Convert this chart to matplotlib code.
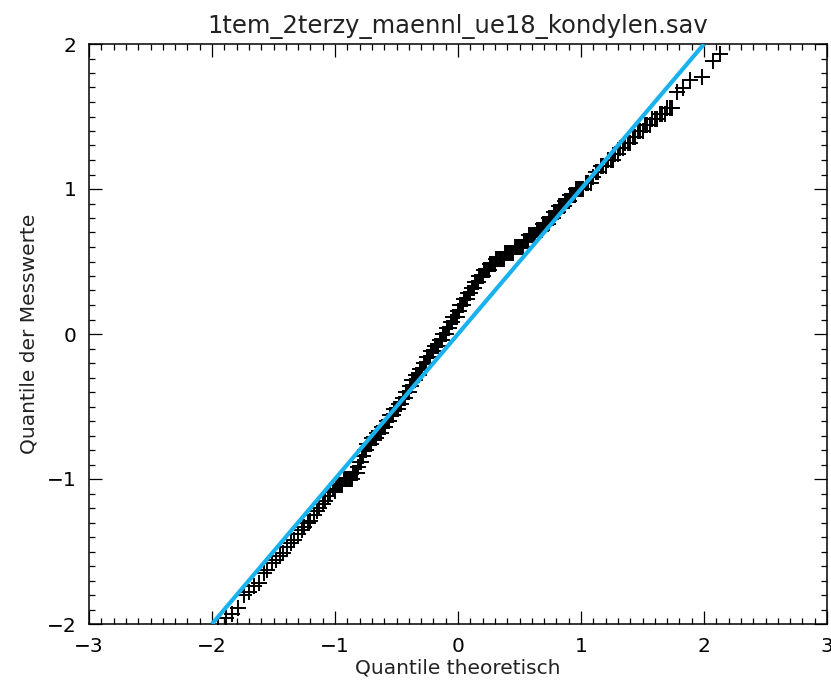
import matplotlib
matplotlib.use("Agg")
import matplotlib.pyplot as plt
from matplotlib.ticker import MultipleLocator

# theoretische Quantile
theo = [-2.04, -1.95, -1.89, -1.84, -1.79, -1.74, -1.70, -1.66, -1.62, -1.58,
        -1.55, -1.51, -1.48, -1.45, -1.42, -1.39, -1.36, -1.33, -1.30, -1.27,
        -1.25, -1.22, -1.20, -1.17, -1.15, -1.13, -1.10, -1.08, -1.06, -1.04,
        -1.02,
        -1.00, -0.99, -0.98, -0.97, -0.96, -0.95, -0.94, -0.93, -0.92, -0.91,
        -0.90, -0.89, -0.88, -0.87, -0.86, -0.85, -0.84, -0.83, -0.82, -0.81,
        -0.80, -0.79, -0.78, -0.77, -0.76, -0.75, -0.74, -0.73, -0.72, -0.71,
        -0.70, -0.69, -0.68, -0.67, -0.66, -0.65, -0.64, -0.63, -0.62, -0.61,
        -0.60, -0.59, -0.58, -0.57, -0.56, -0.55, -0.54, -0.53, -0.52, -0.51,
        -0.50, -0.49, -0.48, -0.47, -0.46, -0.45, -0.44, -0.43, -0.42, -0.41,
        -0.40, -0.39, -0.38, -0.37, -0.36, -0.35, -0.34, -0.33, -0.32, -0.31,
        -0.30, -0.29, -0.28, -0.27, -0.26, -0.25, -0.24, -0.23, -0.22, -0.21,
        -0.20, -0.19, -0.18, -0.17, -0.16, -0.15, -0.14, -0.13, -0.12, -0.11,
        -0.10, -0.09, -0.08, -0.07, -0.06, -0.05, -0.04, -0.03, -0.02, -0.01,
        0.00, 0.01, 0.02, 0.03, 0.04, 0.05, 0.06, 0.07, 0.08, 0.09,
        0.10, 0.11, 0.12, 0.13, 0.14, 0.15, 0.16, 0.17, 0.18, 0.19,
        0.20, 0.21, 0.22, 0.23, 0.24, 0.25, 0.26, 0.27, 0.28, 0.29,
        0.30, 0.31, 0.32, 0.33, 0.34, 0.35, 0.36, 0.37, 0.38, 0.39,
        0.40, 0.41, 0.42, 0.43, 0.44, 0.45, 0.46, 0.47, 0.48, 0.49,
        0.50, 0.51, 0.52, 0.53, 0.54, 0.55, 0.56, 0.57, 0.58, 0.59,
        0.60, 0.61, 0.62, 0.63, 0.64, 0.65, 0.66, 0.67, 0.68, 0.69,
        0.70, 0.71, 0.72, 0.73, 0.74, 0.75, 0.76, 0.77, 0.78, 0.79,
        0.80, 0.81, 0.82, 0.83, 0.84, 0.85, 0.86, 0.87, 0.88, 0.89,
        0.90, 0.91, 0.92, 0.93, 0.94, 0.95, 0.96, 0.97, 0.98, 0.99,
        1.00,
        1.02, 1.04, 1.06, 1.08, 1.10, 1.12, 1.14, 1.16, 1.18, 1.20,
        1.22, 1.24, 1.26, 1.28, 1.30, 1.32, 1.34, 1.36, 1.38, 1.40,
        1.42, 1.44, 1.46, 1.48, 1.50, 1.52, 1.54, 1.56, 1.58, 1.60,
        1.62, 1.64, 1.66, 1.68, 1.70, 1.72, 1.74,
        1.78, 1.83, 1.89, 1.98, 2.07, 2.13]

messwerte = [-2.10, -2.02, -1.96, -1.93, -1.89, -1.80, -1.78, -1.74, -1.72, -1.65,
             -1.63, -1.58, -1.56, -1.53, -1.51, -1.47, -1.44, -1.42, -1.38, -1.35,
             -1.33, -1.30, -1.29, -1.25, -1.22, -1.20, -1.17, -1.15, -1.12, -1.09,
             -1.07,
             -1.08, -1.04, -1.04, -1.04, -1.04, -1.04, -1.04, -1.00, -1.00, -1.00,
             -1.00, -1.00, -1.00, -1.00, -1.00, -0.96, -0.96, -0.96, -0.96, -0.92,
             -0.88, -0.88, -0.84, -0.84, -0.80, -0.80, -0.76, -0.76, -0.76, -0.76,
             -0.72, -0.72, -0.72, -0.72, -0.68, -0.68, -0.68, -0.68, -0.64, -0.64,
             -0.64, -0.64, -0.60, -0.60, -0.60, -0.56, -0.56, -0.56, -0.52, -0.52,
             -0.52, -0.52, -0.48, -0.48, -0.48, -0.44, -0.44, -0.44, -0.40, -0.40,
             -0.40, -0.36, -0.36, -0.32, -0.32, -0.32, -0.28, -0.28, -0.28, -0.24,
             -0.24, -0.24, -0.20, -0.20, -0.20, -0.16, -0.16, -0.16, -0.12, -0.12,
             -0.12, -0.08, -0.08, -0.08, -0.08, -0.04, -0.04, -0.04, 0.00, 0.00,
             0.00, 0.04, 0.04, 0.04, 0.08, 0.08, 0.12, 0.12, 0.12, 0.12,
             0.16, 0.16, 0.20, 0.20, 0.20, 0.24, 0.24, 0.24, 0.28, 0.28,
             0.28, 0.32, 0.32, 0.32, 0.36, 0.36, 0.36, 0.40, 0.40, 0.40,
             0.40, 0.44, 0.44, 0.44, 0.44, 0.44, 0.48, 0.48, 0.48, 0.48,
             0.48, 0.52, 0.52, 0.52, 0.52, 0.52, 0.52, 0.52, 0.56, 0.56,
             0.56, 0.56, 0.56, 0.56, 0.56, 0.56, 0.60, 0.60, 0.60, 0.60,
             0.60, 0.60, 0.60, 0.60, 0.64, 0.64, 0.64, 0.64, 0.68, 0.68,
             0.68, 0.68, 0.68, 0.68, 0.72, 0.72, 0.72, 0.72, 0.72, 0.76,
             0.76, 0.76, 0.76, 0.76, 0.80, 0.80, 0.80, 0.80, 0.84, 0.84,
             0.84, 0.84, 0.88, 0.88, 0.88, 0.88, 0.88, 0.92, 0.92, 0.92,
             0.92, 0.96, 0.96, 0.96, 0.96, 0.96, 1.00, 1.00, 1.00, 1.00,
             1.00,
             1.00, 1.04, 1.04, 1.04, 1.08, 1.12, 1.12, 1.16, 1.16, 1.16,
             1.20, 1.20, 1.20, 1.24, 1.24, 1.28, 1.28, 1.32, 1.32, 1.32,
             1.36, 1.36, 1.40, 1.40, 1.40, 1.44, 1.44, 1.44, 1.48, 1.48,
             1.48, 1.52, 1.52, 1.52, 1.56, 1.56, 1.56,
             1.67, 1.70, 1.75, 1.77, 1.88, 1.93]

# Referenzgerade
linie_x = [-2, 2]
linie_y = [-2, 2]

titel = "1tem_2terzy_maennl_ue18_kondylen.sav"

plt.rcParams['font.family'] = ['DejaVu Sans']
fig = plt.figure(figsize=(8.31, 6.82), dpi=100)
ax = fig.add_axes([89 / 831, 58 / 682, 738 / 831, 580 / 682])

ax.plot(theo, messwerte, linestyle='none', marker='+', markersize=12,
        markeredgewidth=1.4, color='black', zorder=2)
ax.plot(linie_x, linie_y, color='#19b2ef', linewidth=3.0, zorder=3,
        solid_capstyle='butt')

ax.set_xlim(-3, 3)
ax.set_ylim(-2, 2)
ax.xaxis.set_major_locator(MultipleLocator(1))
ax.xaxis.set_minor_locator(MultipleLocator(0.1))
ax.yaxis.set_major_locator(MultipleLocator(1))
ax.yaxis.set_minor_locator(MultipleLocator(0.1))
ax.tick_params(which='both', direction='in', top=True, right=True,
               color='black', width=0.9)
ax.tick_params(which='major', length=9.5, labelsize=14.5, pad=9)
ax.tick_params(which='minor', length=4.5)
for s in ax.spines.values():
    s.set_linewidth(1.1)

ax.set_title(titel, fontsize=17.5, pad=8, color='#222222')
ax.set_xlabel("Quantile theoretisch", fontsize=14.5, labelpad=2, color='#222222')
ax.set_ylabel("Quantile der Messwerte", fontsize=14.5, labelpad=6, color='#222222')

fig.savefig("out.png", dpi=100)
plt.close(fig)
